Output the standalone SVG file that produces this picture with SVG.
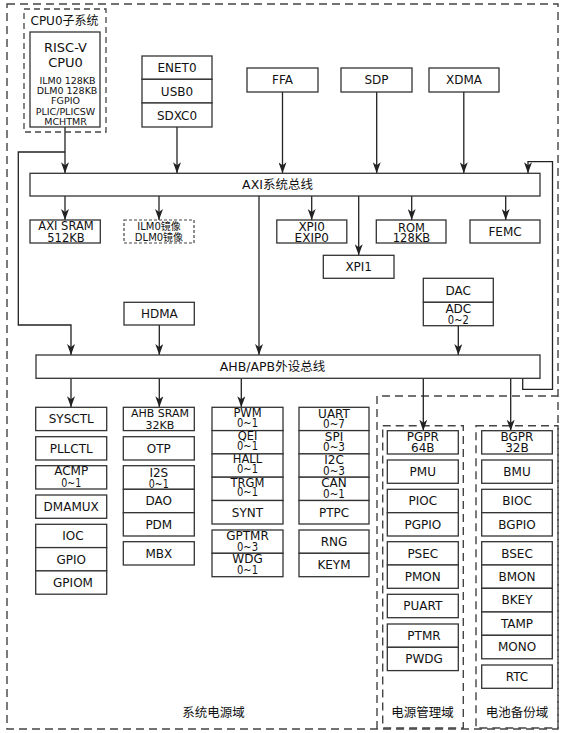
<svg xmlns="http://www.w3.org/2000/svg" width="565" height="733" viewBox="0 0 565 733">
<style>
.box{fill:#fff;stroke:#333;stroke-width:1.3}
.dbox{fill:none;stroke:#444;stroke-width:1.4;stroke-dasharray:8,5}
.cbox{fill:none;stroke:#444;stroke-width:1.3;stroke-dasharray:6,4}
.ibox{fill:#fff;stroke:#444;stroke-width:1.2;stroke-dasharray:3,2}
.t{font-family:"DejaVu Sans","Noto Sans CJK SC",sans-serif;font-size:12px;fill:#111;text-anchor:middle}
.s{font-size:9.5px}
.m{font-size:10px}
.l{font-size:12.5px}
.n{font-size:11.5px}
.c{fill:none;stroke:#222;stroke-width:1.3}
.a{marker-end:url(#arr)}
</style>
<defs>
<marker id="arr" markerWidth="12" markerHeight="8" refX="11" refY="4" orient="auto" markerUnits="userSpaceOnUse" viewBox="0 0 12 8">
<path d="M0,0 L11,4 L0,8 L3,4 z" fill="#222"/>
</marker>
</defs>

<!-- domains -->
<g id="system-domain">
<rect class="dbox" x="7" y="4" width="551" height="725"/>
<path class="dbox" d="M377,729 V396 H558"/>
<text class="t l" x="213.5" y="717">系统电源域</text>
</g>
<g id="power-domain">
<rect class="dbox" x="382.7" y="425.7" width="80.6" height="302.3"/>
<text class="t l" x="422.5" y="717">电源管理域</text>
</g>
<g id="battery-domain">
<rect class="dbox" x="476" y="425.7" width="82" height="302.3"/>
<text class="t l" x="517" y="717">电池备份域</text>
</g>

<!-- connectors -->
<g id="connectors">
<path class="c a" d="M65,127 V173.3"/>
<path class="c a" d="M65,152 H18.3 V325 H71 V355"/>
<path class="c a" d="M177,127 V173.3"/>
<path class="c a" d="M282.5,92 V173.3"/>
<path class="c a" d="M376.7,92 V173.3"/>
<path class="c a" d="M463.8,92 V173.3"/>
<path class="c a" d="M522.7,378.3 V389.3 H552.5 V161.7 H528 V173.3"/>
<path class="c a" d="M65,196 V220"/>
<path class="c a" d="M159,196 V220"/>
<path class="c a" d="M311.7,196 V220"/>
<path class="c a" d="M411.7,196 V220"/>
<path class="c a" d="M505.7,196 V220"/>
<path class="c a" d="M358.7,196 V255.3"/>
<path class="c a" d="M259,196 V355"/>
<path class="c a" d="M159.3,325 V355"/>
<path class="c a" d="M458.3,325.7 V355"/>
<path class="c a" d="M71,378.3 V407.3"/>
<path class="c a" d="M159.3,378.3 V407.3"/>
<path class="c a" d="M241.3,378.3 V407.3"/>
<path class="c a" d="M423.3,378.3 V430.7"/>
<path class="c a" d="M510.7,378.3 V430.7"/>
</g>

<!-- CPU0 subsystem -->
<g id="cpu0-subsystem">
<rect class="cbox" x="24" y="9" width="82" height="123"/>
<text class="t" x="30.5" y="24.5" style="text-anchor:start">CPU0子系统</text>
</g>
<g id="cpu0">
<rect class="box" x="30" y="32" width="70" height="95"/>
<text class="t" x="65.5" y="51.5" style="font-size:13px">RISC-V</text>
<text class="t" x="65.5" y="67" style="font-size:13px">CPU0</text>
<text class="t s" x="67.5" y="83.5">ILM0 128KB</text>
<text class="t s" x="67" y="94">DLM0 128KB</text>
<text class="t s" x="65.5" y="104">FGPIO</text>
<text class="t s" x="65.5" y="114.5">PLIC/PLICSW</text>
<text class="t s" x="65.5" y="124.5">MCHTMR</text>
</g>

<!-- top masters -->
<g id="enet0"><rect class="box" x="142" y="56" width="70" height="23.3"/><text class="t" x="177" y="72">ENET0</text></g>
<g id="usb0"><rect class="box" x="142" y="79.3" width="70" height="23.7"/><text class="t" x="177" y="95.5">USB0</text></g>
<g id="sdxc0"><rect class="box" x="142" y="103" width="70" height="24"/><text class="t" x="177" y="119.5">SDXC0</text></g>
<g id="ffa"><rect class="box" x="247" y="68" width="71" height="24"/><text class="t" x="282.5" y="84.3">FFA</text></g>
<g id="sdp"><rect class="box" x="341" y="68" width="71" height="24"/><text class="t" x="376.5" y="84.3">SDP</text></g>
<g id="xdma"><rect class="box" x="429" y="68" width="70" height="24"/><text class="t" x="464" y="84.3">XDMA</text></g>

<!-- AXI bus -->
<g id="axi-bus"><rect class="box" x="30" y="173.3" width="510" height="22.7"/><text class="t l" x="277.5" y="189.3">AXI系统总线</text></g>

<g id="axi-sram"><rect class="box" x="30" y="220" width="70.3" height="23"/><text class="t n" x="66" y="230.3">AXI SRAM</text><text class="t n" x="66" y="242">512KB</text></g>
<g id="ilm-mirror"><rect class="ibox" x="124" y="220" width="70" height="23"/><text class="t m" x="159" y="229.7">ILM0镜像</text><text class="t m" x="159" y="240.5">DLM0镜像</text></g>
<g id="xpi0"><rect class="box" x="276.8" y="220" width="70" height="23"/><text class="t" x="311.7" y="231">XPI0</text><text class="t" x="311.7" y="242">EXIP0</text></g>
<g id="xpi1"><rect class="box" x="323.3" y="255.3" width="70.7" height="23"/><text class="t" x="358.7" y="271.3">XPI1</text></g>
<g id="rom"><rect class="box" x="376.3" y="220" width="69.7" height="23"/><text class="t n" x="411.5" y="231.5">ROM</text><text class="t n" x="411.5" y="242">128KB</text></g>
<g id="femc"><rect class="box" x="470" y="220" width="70" height="23"/><text class="t" x="505" y="235.8">FEMC</text></g>

<g id="hdma"><rect class="box" x="124" y="302.3" width="70.3" height="22.7"/><text class="t" x="159.3" y="318">HDMA</text></g>
<g id="dac"><rect class="box" x="423.3" y="278.3" width="70" height="24"/><text class="t" x="458.3" y="294.5">DAC</text></g>
<g id="adc"><rect class="box" x="423.3" y="302.3" width="70" height="23.4"/><text class="t" x="458.3" y="312.5">ADC</text><text class="t" x="458.3" y="323.5" textLength="21" lengthAdjust="spacingAndGlyphs">0~2</text></g>

<!-- AHB bus -->
<g id="ahb-bus"><rect class="box" x="36" y="355" width="504" height="23.3"/><text class="t l" x="272.5" y="371">AHB/APB外设总线</text></g>

<!-- column 1 -->
<g id="sysctl"><rect class="box" x="35.7" y="407.3" width="71" height="23.3"/><text class="t" x="71.2" y="423.3">SYSCTL</text></g>
<g id="pllctl"><rect class="box" x="35.7" y="436.7" width="71" height="23.3"/><text class="t" x="71.2" y="452.7">PLLCTL</text></g>
<g id="acmp"><rect class="box" x="35.7" y="465.7" width="71" height="23.3"/><text class="t" x="71.2" y="475">ACMP</text><text class="t" x="71.2" y="487" textLength="20" lengthAdjust="spacingAndGlyphs">0~1</text></g>
<g id="dmamux"><rect class="box" x="35.7" y="495" width="71" height="23.3"/><text class="t" x="71.2" y="511">DMAMUX</text></g>
<g id="ioc"><rect class="box" x="35.7" y="524.3" width="71" height="23.3"/><text class="t" x="73" y="540.3">IOC</text></g>
<g id="gpio"><rect class="box" x="35.7" y="547.6" width="71" height="23.3"/><text class="t" x="71.2" y="563.6">GPIO</text></g>
<g id="gpiom"><rect class="box" x="35.7" y="570.9" width="71" height="23.3"/><text class="t" x="73" y="586.9">GPIOM</text></g>

<!-- column 2 -->
<g id="ahb-sram"><rect class="box" x="123.3" y="407.3" width="71" height="23.3"/><text class="t" x="160" y="416.5" style="font-size:11px">AHB SRAM</text><text class="t" x="160" y="429" style="font-size:11px">32KB</text></g>
<g id="otp"><rect class="box" x="123.3" y="436.7" width="71" height="23.3"/><text class="t" x="158.8" y="452.7">OTP</text></g>
<g id="i2s"><rect class="box" x="123.3" y="465.7" width="71" height="23.6"/><text class="t" x="158.8" y="476.5">I2S</text><text class="t" x="158.8" y="487.5" textLength="20" lengthAdjust="spacingAndGlyphs">0~1</text></g>
<g id="dao"><rect class="box" x="123.3" y="489.3" width="71" height="23.4"/><text class="t" x="158.8" y="505.3">DAO</text></g>
<g id="pdm"><rect class="box" x="123.3" y="512.7" width="71" height="23.3"/><text class="t" x="158.8" y="528.7">PDM</text></g>
<g id="mbx"><rect class="box" x="123.3" y="541.7" width="71" height="23.3"/><text class="t" x="158.8" y="557.7">MBX</text></g>

<!-- column 3 -->
<g id="pwm"><rect class="box" x="212" y="407.3" width="71" height="23.3"/><text class="t n" x="247.5" y="416.8">PWM</text><text class="t n" x="247.5" y="426.5" textLength="21" lengthAdjust="spacingAndGlyphs">0~1</text></g>
<g id="qei"><rect class="box" x="212" y="430.6" width="71" height="23.3"/><text class="t n" x="247.5" y="440.1">QEI</text><text class="t n" x="247.5" y="449.8" textLength="21" lengthAdjust="spacingAndGlyphs">0~1</text></g>
<g id="hall"><rect class="box" x="212" y="453.9" width="71" height="23.3"/><text class="t n" x="247.5" y="463.4">HALL</text><text class="t n" x="247.5" y="473.1" textLength="21" lengthAdjust="spacingAndGlyphs">0~1</text></g>
<g id="trgm"><rect class="box" x="212" y="477.2" width="71" height="23.3"/><text class="t n" x="247.5" y="486.7">TRGM</text><text class="t n" x="247.5" y="496.4" textLength="21" lengthAdjust="spacingAndGlyphs">0~1</text></g>
<g id="synt"><rect class="box" x="212" y="500.5" width="71" height="23.5"/><text class="t" x="247.5" y="516.5">SYNT</text></g>
<g id="gptmr"><rect class="box" x="212" y="530" width="71" height="23.3"/><text class="t" x="247.5" y="540">GPTMR</text><text class="t" x="247.5" y="550.5" textLength="21" lengthAdjust="spacingAndGlyphs">0~3</text></g>
<g id="wdg"><rect class="box" x="212" y="553.3" width="71" height="23.4"/><text class="t" x="247.5" y="563.3">WDG</text><text class="t" x="247.5" y="573.8" textLength="21" lengthAdjust="spacingAndGlyphs">0~1</text></g>

<!-- column 4 -->
<g id="uart"><rect class="box" x="299" y="407.3" width="70" height="23.3"/><text class="t" x="334" y="417.5">UART</text><text class="t" x="334" y="428" textLength="22" lengthAdjust="spacingAndGlyphs">0~7</text></g>
<g id="spi"><rect class="box" x="299" y="430.6" width="70" height="23.3"/><text class="t" x="334" y="440.8">SPI</text><text class="t" x="334" y="451.3" textLength="22" lengthAdjust="spacingAndGlyphs">0~3</text></g>
<g id="i2c"><rect class="box" x="299" y="453.9" width="70" height="23.3"/><text class="t" x="334" y="464.1">I2C</text><text class="t" x="334" y="474.6" textLength="22" lengthAdjust="spacingAndGlyphs">0~3</text></g>
<g id="can"><rect class="box" x="299" y="477.2" width="70" height="23.3"/><text class="t" x="334" y="487.4">CAN</text><text class="t" x="334" y="497.9" textLength="22" lengthAdjust="spacingAndGlyphs">0~1</text></g>
<g id="ptpc"><rect class="box" x="299" y="500.5" width="70" height="23.5"/><text class="t" x="334" y="516.5">PTPC</text></g>
<g id="rng"><rect class="box" x="299" y="530" width="70" height="23.3"/><text class="t" x="334" y="546">RNG</text></g>
<g id="keym"><rect class="box" x="299" y="553.3" width="70" height="23.4"/><text class="t" x="334" y="569.3">KEYM</text></g>

<!-- power management domain -->
<g id="pgpr"><rect class="box" x="387.3" y="430.7" width="71" height="23.3"/><text class="t" x="422.8" y="441">PGPR</text><text class="t" x="422.8" y="452">64B</text></g>
<g id="pmu"><rect class="box" x="387.3" y="460" width="71" height="23.3"/><text class="t" x="422.8" y="476">PMU</text></g>
<g id="pioc"><rect class="box" x="387.3" y="489.3" width="71" height="23.4"/><text class="t" x="422.8" y="505.3">PIOC</text></g>
<g id="pgpio"><rect class="box" x="387.3" y="512.7" width="71" height="23.3"/><text class="t" x="422.8" y="528.7">PGPIO</text></g>
<g id="psec"><rect class="box" x="387.3" y="541.7" width="71" height="23.3"/><text class="t" x="422.8" y="557.7">PSEC</text></g>
<g id="pmon"><rect class="box" x="387.3" y="565" width="71" height="23.3"/><text class="t" x="422.8" y="581">PMON</text></g>
<g id="puart"><rect class="box" x="387.3" y="594.3" width="71" height="23.4"/><text class="t" x="422.8" y="610.3">PUART</text></g>
<g id="ptmr"><rect class="box" x="387.3" y="624" width="71" height="23.3"/><text class="t" x="424" y="640">PTMR</text></g>
<g id="pwdg"><rect class="box" x="387.3" y="647.3" width="71" height="23.3"/><text class="t" x="424" y="663.3">PWDG</text></g>

<!-- battery backup domain -->
<g id="bgpr"><rect class="box" x="481.7" y="430.7" width="70.6" height="23.3"/><text class="t" x="517" y="441">BGPR</text><text class="t" x="517" y="452">32B</text></g>
<g id="bmu"><rect class="box" x="481.7" y="460" width="70.6" height="23.3"/><text class="t" x="517" y="476">BMU</text></g>
<g id="bioc"><rect class="box" x="481.7" y="489.3" width="70.6" height="23.4"/><text class="t" x="517" y="505.3">BIOC</text></g>
<g id="bgpio"><rect class="box" x="481.7" y="512.7" width="70.6" height="23.3"/><text class="t" x="517" y="528.7">BGPIO</text></g>
<g id="bsec"><rect class="box" x="481.7" y="541.7" width="70.6" height="23.3"/><text class="t" x="517" y="557.7">BSEC</text></g>
<g id="bmon"><rect class="box" x="481.7" y="565" width="70.6" height="23.3"/><text class="t" x="517" y="581">BMON</text></g>
<g id="bkey"><rect class="box" x="481.7" y="588.3" width="70.6" height="23.7"/><text class="t" x="517" y="604.3">BKEY</text></g>
<g id="tamp"><rect class="box" x="481.7" y="612" width="70.6" height="23.3"/><text class="t" x="517" y="628">TAMP</text></g>
<g id="mono"><rect class="box" x="481.7" y="635.3" width="70.6" height="23.5"/><text class="t" x="517" y="651.3">MONO</text></g>
<g id="rtc"><rect class="box" x="481.7" y="665" width="70.6" height="23.3"/><text class="t" x="517" y="681">RTC</text></g>
</svg>
